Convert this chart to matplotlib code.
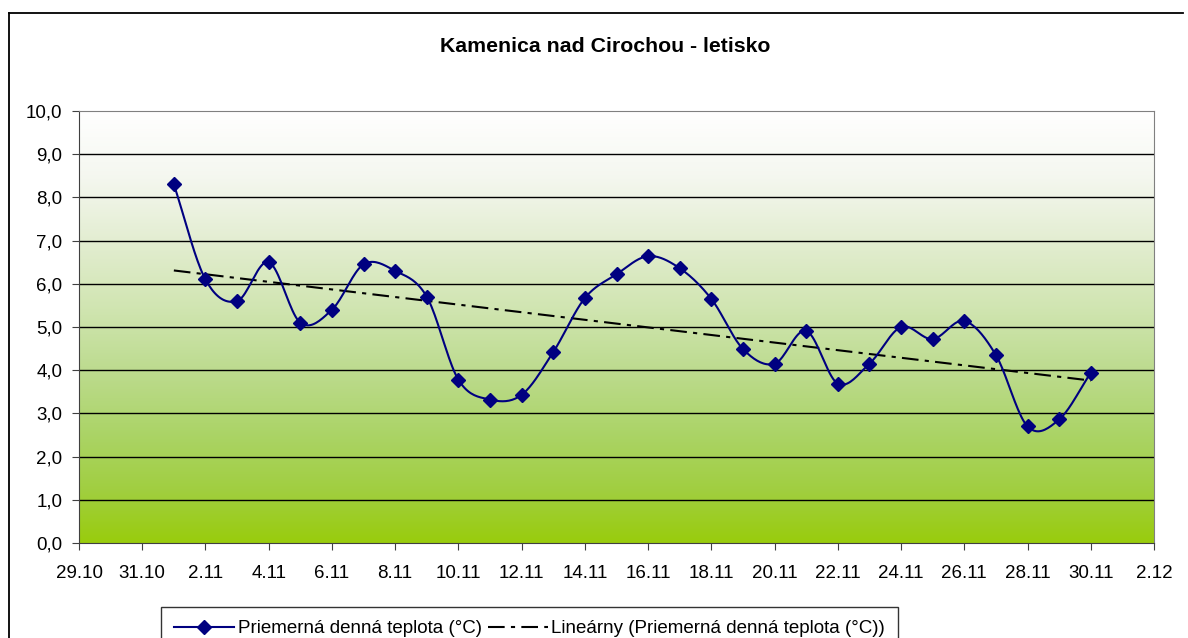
import matplotlib.pyplot as plt
import numpy as np
from matplotlib.colors import LinearSegmentedColormap
from matplotlib.lines import Line2D

plt.rcParams['font.family'] = ['Liberation Sans', 'DejaVu Sans']

# dni v novembri a priemerne denne teploty
dni = list(range(1, 31))
teplota = [8.3, 6.1, 5.6, 6.5, 5.1, 5.4, 6.45, 6.3, 5.7, 3.78,
           3.32, 3.43, 4.42, 5.67, 6.22, 6.64, 6.36, 5.65, 4.49, 4.15,
           4.91, 3.69, 4.15, 5.0, 4.72, 5.14, 4.35, 2.7, 2.86, 3.94]

x_ticky = list(range(-2, 34, 2))
x_popisky = ["29.10", "31.10", "2.11", "4.11", "6.11", "8.11", "10.11", "12.11",
             "14.11", "16.11", "18.11", "20.11", "22.11", "24.11", "26.11",
             "28.11", "30.11", "2.12"]
y_ticky = np.arange(0, 11, 1)

x = np.array(dni, dtype=float)
y = np.array(teplota)

# vyhladena ciara (catmull-rom)
def vyhlad(x, y, n=20):
    px = np.concatenate([[2 * x[0] - x[1]], x, [2 * x[-1] - x[-2]]])
    py = np.concatenate([[2 * y[0] - y[1]], y, [2 * y[-1] - y[-2]]])
    xs, ys = [], []
    t = np.linspace(0, 1, n, endpoint=False)
    for i in range(1, len(px) - 2):
        for p, out in ((px, xs), (py, ys)):
            p0, p1, p2, p3 = p[i - 1], p[i], p[i + 1], p[i + 2]
            out.extend(0.5 * ((2 * p1) + (-p0 + p2) * t
                              + (2 * p0 - 5 * p1 + 4 * p2 - p3) * t ** 2
                              + (-p0 + 3 * p1 - 3 * p2 + p3) * t ** 3))
    xs.append(x[-1]); ys.append(y[-1])
    return np.array(xs), np.array(ys)

xs, ys = vyhlad(x, y)

# linearny trend
k, q = np.polyfit(x, y, 1)

fig = plt.figure(figsize=(11.88, 6.38), dpi=100)
ax = fig.add_axes([79 / 1188, 1 - 543 / 638, (1154 - 79) / 1188, (543 - 111) / 638])

# farebny prechod pozadia
farby = [(0.0, (0.60, 0.80, 0.05)), (0.12, (0.63, 0.81, 0.25)),
         (0.25, (0.67, 0.83, 0.40)), (0.4, (0.74, 0.86, 0.56)),
         (0.55, (0.82, 0.90, 0.70)), (0.7, (0.89, 0.93, 0.82)),
         (0.85, (0.96, 0.97, 0.94)), (1.0, (1.0, 1.0, 1.0))]
cmap = LinearSegmentedColormap.from_list("zelena", farby)
grad = np.linspace(1, 0, 256).reshape(-1, 1)
ax.imshow(grad, cmap=cmap, aspect='auto', extent=[-2, 32, 0, 10], zorder=0)

for v in y_ticky[1:-1]:
    ax.axhline(v, color='black', lw=1, zorder=1)

ax.plot(x, k * x + q, color='black', lw=1.5, linestyle=(0, (8, 3, 2, 3)), zorder=2)
ax.plot(xs, ys, color='#000080', lw=1.5, zorder=3)
ax.plot(x, y, linestyle='none', marker='D', ms=7.5, color='#000080', zorder=4)

ax.set_xlim(-2, 32)
ax.set_ylim(0, 10)
ax.set_xticks(x_ticky)
ax.set_xticklabels(x_popisky)
ax.set_yticks(y_ticky)
ax.set_yticklabels([f"{v:.1f}".replace('.', ',') for v in y_ticky])
ax.tick_params(labelsize=13.5, length=5, color='#404040')
ax.tick_params(axis='x', pad=11)
ax.tick_params(axis='y', pad=7)
for s in ['top', 'right']:
    ax.spines[s].set_color('#808080')
for s in ['left', 'bottom']:
    ax.spines[s].set_color('#404040')

fig.text(605 / 1188, 1 - 47 / 638, "Kamenica nad Cirochou - letisko",
         ha='center', va='center', fontsize=15.3, fontweight='bold')

# okraj grafu
fig.add_artist(Line2D([9 / 1188, 9 / 1188], [0, 1 - 13 / 638], color='black', lw=1.3))
fig.add_artist(Line2D([9 / 1188, 1183 / 1188], [1 - 13 / 638, 1 - 13 / 638], color='black', lw=1.3))

h1 = Line2D([], [], color='#000080', lw=1.5, marker='D', ms=7)
h2 = Line2D([], [], color='black', lw=1.5, linestyle=(0, (8, 3, 2, 3)))
leg = fig.legend([h1, h2], ["Priemerná denná teplota (°C)",
                            "Lineárny (Priemerná denná teplota (°C))"],
                 loc='upper left', bbox_to_anchor=(161 / 1188, 1 - 607 / 638),
                 ncol=2, fontsize=13.5, frameon=True, fancybox=False,
                 edgecolor='black', handlelength=3.2, columnspacing=0.3,
                 handletextpad=0.2, borderpad=0.7, borderaxespad=0)
leg.get_frame().set_linewidth(1)

fig.savefig("out.png", dpi=100)
